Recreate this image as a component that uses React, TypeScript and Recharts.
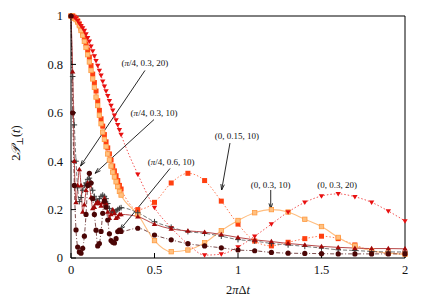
import React from 'react';
import { LineChart, Line, XAxis, YAxis, ReferenceLine, ReferenceDot } from 'recharts';

// time axis: dense up to 0.3, then every 0.1
const times = [
  0, 0.01, 0.02, 0.03, 0.04, 0.05, 0.06, 0.07, 0.08, 0.09, 0.1,
  0.11, 0.12, 0.13, 0.14, 0.15, 0.16, 0.17, 0.18, 0.19, 0.2,
  0.21, 0.22, 0.23, 0.24, 0.25, 0.26, 0.27, 0.28, 0.29, 0.3,
  0.4, 0.5, 0.6, 0.7, 0.8, 0.9, 1, 1.1, 1.2, 1.3, 1.4, 1.5, 1.6, 1.7, 1.8, 1.9, 2,
];

// (0, 0.15, 10)
const sq15 = [
  1.0, 1.0, 0.995, 0.99, 0.98, 0.965, 0.95, 0.93, 0.91, 0.885, 0.86,
  0.83, 0.795, 0.76, 0.725, 0.69, 0.65, 0.61, 0.575, 0.545, 0.51,
  0.48, 0.455, 0.43, 0.405, 0.38, 0.36, 0.34, 0.32, 0.3, 0.285,
  0.2, 0.23, 0.31, 0.35, 0.32, 0.235, 0.14, 0.07, 0.05, 0.065, 0.08, 0.09, 0.08, 0.054, 0.03, 0.02, 0.02,
];

// (0, 0.3, 10)
const sq30 = [
  1.0, 1.0, 0.99, 0.985, 0.975, 0.96, 0.94, 0.92, 0.895, 0.87, 0.84,
  0.81, 0.775, 0.74, 0.705, 0.665, 0.63, 0.59, 0.555, 0.52, 0.49,
  0.46, 0.43, 0.405, 0.38, 0.355, 0.335, 0.315, 0.295, 0.275, 0.26,
  0.18, 0.072, 0.026, 0.033, 0.063, 0.113, 0.155, 0.187, 0.2, 0.19, 0.16, 0.13, 0.085, 0.05, 0.03, 0.02, 0.015,
];

// (0, 0.3, 20)
const tri20 = [
  1.0, 1.0, 0.995, 0.99, 0.98, 0.97, 0.96, 0.95, 0.94, 0.925, 0.91,
  0.895, 0.875, 0.855, 0.835, 0.815, 0.795, 0.775, 0.755, 0.73, 0.71,
  0.69, 0.67, 0.65, 0.63, 0.61, 0.59, 0.57, 0.55, 0.53, 0.51,
  0.346, 0.208, 0.125, 0.058, 0.012, 0.016, 0.045, 0.09, 0.14, 0.19, 0.23, 0.256, 0.265, 0.253, 0.23, 0.194, 0.153,
];

// (pi/4, 0.3, 10)
const plus10 = [
  1.0, 0.75, 0.55, 0.4, 0.29, 0.233, 0.25, 0.28, 0.3, 0.31, 0.325,
  0.33, 0.31, 0.28, 0.255, 0.24, 0.233, 0.245, 0.255, 0.26, 0.255,
  0.245, 0.225, 0.205, 0.19, 0.19, 0.19, 0.195, 0.2, 0.205, 0.208,
  0.187, 0.15, 0.127, 0.109, 0.102, 0.09, 0.076, 0.07, 0.06, 0.054, 0.048, 0.041, 0.034, 0.031, 0.027, 0.025, 0.025,
];

// (pi/4, 0.3, 20)
const triUp20 = [
  1.0, 0.77, 0.4, 0.23, 0.3, 0.366, 0.3, 0.19, 0.22, 0.28, 0.31,
  0.3, 0.25, 0.205, 0.21, 0.225, 0.233, 0.225, 0.215, 0.23, 0.247,
  0.225, 0.19, 0.164, 0.18, 0.2, 0.185, 0.164, 0.17, 0.18, 0.18,
  0.171, 0.14, 0.12, 0.112, 0.107, 0.097, 0.085, 0.075, 0.068, 0.06, 0.054, 0.048, 0.044, 0.041, 0.039, 0.039, 0.038,
];

// (pi/4, 0.6, 10)
const circ10 = [
  1.0, 0.6, 0.3, 0.116, 0.045, 0.025, 0.02, 0.04, 0.09, 0.18, 0.3,
  0.35, 0.31, 0.245, 0.18, 0.115, 0.05, 0.06, 0.11, 0.185, 0.235,
  0.21, 0.157, 0.1, 0.072, 0.065, 0.062, 0.08, 0.109, 0.115, 0.11,
  0.123, 0.095, 0.075, 0.059, 0.05, 0.042, 0.033, 0.03, 0.023, 0.02, 0.019, 0.018, 0.017, 0.017, 0.017, 0.017, 0.017,
];

const data = times.map((t, i) => ({
  t,
  sq15: sq15[i],
  sq30: sq30[i],
  tri20: tri20[i],
  plus10: plus10[i],
  triUp20: triUp20[i],
  circ10: circ10[i],
}));

type Kind = 'square' | 'squareLight' | 'triDown' | 'triUp' | 'plus' | 'circle';

const marker = (kind: Kind, color: string) => (p: any) => {
  const { cx, cy, index } = p;
  const key = `${kind}-${index}`;
  if (cx == null || cy == null) return <g key={key} />;
  switch (kind) {
    case 'square':
      return <rect key={key} x={cx - 2.5} y={cy - 2.5} width={5} height={5} fill={color} />;
    case 'squareLight':
      return <rect key={key} x={cx - 2.2} y={cy - 2.2} width={4.4} height={4.4} fill="#ffc080" stroke={color} strokeWidth={0.8} />;
    case 'triDown':
      return <polygon key={key} points={`${cx - 2.7},${cy - 1.8} ${cx + 2.7},${cy - 1.8} ${cx},${cy + 2.7}`} fill={color} />;
    case 'triUp':
      return <polygon key={key} points={`${cx - 2.7},${cy + 1.8} ${cx + 2.7},${cy + 1.8} ${cx},${cy - 2.7}`} fill={color} />;
    case 'plus':
      return <path key={key} d={`M${cx - 2.8},${cy}H${cx + 2.8}M${cx},${cy - 2.8}V${cy + 2.8}`} stroke={color} strokeWidth={1} />;
    default:
      return <circle key={key} cx={cx} cy={cy} r={2.6} fill={color} />;
  }
};

const series = [
  { key: 'sq15', kind: 'square' as Kind, mark: '#ff4010', line: '#ff6a40', dash: '1.5 2', width: 0.9 },
  { key: 'sq30', kind: 'squareLight' as Kind, mark: '#ff9a40', line: '#ffbe80', dash: undefined, width: 1.1 },
  { key: 'tri20', kind: 'triDown' as Kind, mark: '#e81010', line: '#f04040', dash: '1.5 2', width: 0.9 },
  { key: 'plus10', kind: 'plus' as Kind, mark: '#3a3a3a', line: '#555555', dash: '4 2', width: 0.8 },
  { key: 'triUp20', kind: 'triUp' as Kind, mark: '#a00808', line: '#b84848', dash: undefined, width: 1 },
  { key: 'circ10', kind: 'circle' as Kind, mark: '#4a0505', line: '#5a2020', dash: '4 2 1 2', width: 0.8 },
];

// callouts, in data units
const notes = [
  { text: '(π/4, 0.3, 20)', at: [0.443, 0.805], from: [0.443, 0.775], to: [0.057, 0.38] },
  { text: '(π/4, 0.3, 10)', at: [0.497, 0.598], from: [0.497, 0.572], to: [0.144, 0.35] },
  { text: '(π/4, 0.6, 10)', at: [0.599, 0.398], from: [0.593, 0.37], to: [0.293, 0.116] },
  { text: '(0, 0.15, 10)', at: [0.994, 0.504], from: [0.952, 0.475], to: [0.902, 0.281] },
  { text: '(0, 0.3, 10)', at: [1.196, 0.302], from: [1.196, 0.281], to: [1.196, 0.202] },
  { text: '(0, 0.3, 20)', at: [1.593, 0.302], from: null, to: null },
];

const serif = '"Liberation Serif", "DejaVu Serif", serif';

const Arrow = (p: any) => {
  const { x1, y1, x2, y2 } = p;
  const a = Math.atan2(y2 - y1, x2 - x1);
  const h = 6;
  const w = 0.3;
  const lx = x2 - h * Math.cos(a - w);
  const ly = y2 - h * Math.sin(a - w);
  const rx = x2 - h * Math.cos(a + w);
  const ry = y2 - h * Math.sin(a + w);
  return (
    <g>
      <line x1={x1} y1={y1} x2={x2} y2={y2} stroke="#111" strokeWidth={0.9} />
      <path d={`M${lx},${ly}L${x2},${y2}L${rx},${ry}`} fill="none" stroke="#111" strokeWidth={0.9} />
    </g>
  );
};

const noteText = (text: string) => (p: any) => {
  const parts = text.split('π');
  return (
    <text x={p.cx} y={p.cy} dy="0.33em" textAnchor="middle" fontFamily={serif} fontSize={9} fill="#111">
      {parts[0]}
      {parts.length > 1 && <tspan fontStyle="italic">π</tspan>}
      {parts.length > 1 && parts[1]}
    </text>
  );
};

const xTicks = [0, 0.5, 1, 1.5, 2];
const yTicks = [0, 0.2, 0.4, 0.6, 0.8, 1];
const tickFont = { fontFamily: serif, fontSize: 12.5, fill: '#111' };

export default function App() {
  return (
    <div style={{ position: 'absolute', left: 0, top: 0, background: '#fff' }}>
      <LineChart width={436} height={302} data={data} margin={{ top: 15, right: 30, bottom: 14, left: 21 }}>
        <XAxis
          dataKey="t"
          type="number"
          domain={[0, 2]}
          ticks={xTicks}
          tick={tickFont}
          tickSize={-5}
          tickMargin={12}
          stroke="#000"
          height={30}
          label={() => (
            <text x={238} y={294} textAnchor="middle" fontFamily={serif} fontSize={12.5} fill="#111">
              2<tspan fontStyle="italic">π</tspan>Δ<tspan fontStyle="italic">t</tspan>
            </text>
          )}
        />
        <XAxis xAxisId="top" orientation="top" type="number" domain={[0, 2]} ticks={xTicks} tick={false} tickSize={-5} stroke="#000" height={1} />
        <YAxis
          type="number"
          domain={[0, 1]}
          ticks={yTicks}
          tick={tickFont}
          tickSize={-5}
          tickMargin={13}
          stroke="#000"
          width={50}
          label={() => (
            <text x={20} y={143} transform="rotate(-90 20 143)" textAnchor="middle" fontFamily={serif} fontSize={12.5} fill="#111">
              2<tspan fontStyle="italic">𝒫</tspan>
              <tspan fontSize={9} dy={3}>⊥</tspan>
              <tspan dy={-3}>(</tspan>
              <tspan fontStyle="italic">t</tspan>)
            </text>
          )}
        />
        <YAxis yAxisId="right" orientation="right" type="number" domain={[0, 1]} ticks={yTicks} tick={false} tickSize={-5} stroke="#000" width={1} />
        {series.map((s) => (
          <Line
            key={s.key}
            dataKey={s.key}
            type="monotone"
            stroke={s.line}
            strokeWidth={s.width}
            strokeDasharray={s.dash}
            dot={marker(s.kind, s.mark)}
            activeDot={false}
            isAnimationActive={false}
          />
        ))}
        {notes.map((n, i) =>
          n.from && n.to ? (
            <ReferenceLine
              key={`a${i}`}
              segment={[
                { x: n.from[0], y: n.from[1] },
                { x: n.to[0], y: n.to[1] },
              ]}
              ifOverflow="visible"
              shape={Arrow}
            />
          ) : null
        )}
        {notes.map((n, i) => (
          <ReferenceDot key={`t${i}`} x={n.at[0]} y={n.at[1]} r={0} ifOverflow="visible" shape={noteText(n.text)} />
        ))}
      </LineChart>
    </div>
  );
}
